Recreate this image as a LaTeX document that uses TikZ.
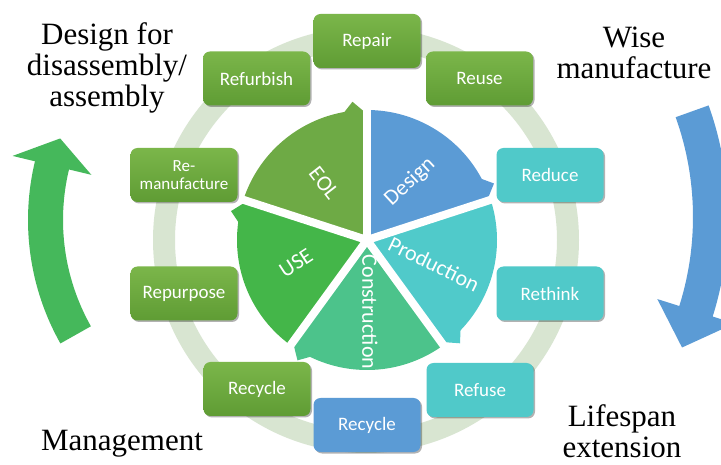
\documentclass[tikz,border=0pt]{standalone}
\usepackage{fontspec}
\setmainfont{Carlito}
\newfontfamily\serifbig{Liberation Serif}
\usetikzlibrary{shadows}
\definecolor{ringc}{HTML}{D8E5D1}
\definecolor{gtop}{HTML}{7BB64A}
\definecolor{gbot}{HTML}{5F9C34}
\definecolor{tealc}{HTML}{50C9C9}
\definecolor{bluec}{HTML}{5B9BD5}
\definecolor{designc}{HTML}{5B9BD5}
\definecolor{prodc}{HTML}{50CACA}
\definecolor{consc}{HTML}{4CC38B}
\definecolor{usec}{HTML}{44B649}
\definecolor{eolc}{HTML}{6EAA45}
\definecolor{larrowc}{HTML}{45B85B}
\definecolor{rarrowc}{HTML}{5B9BD5}
\newcommand\mysector[3]{%
  \fill[#1] (0,0) -- (#2:130) arc[start angle=#2, end angle={#3+10}, radius=130]
    -- ({#3+6}:139) -- (#3:126) -- cycle;}
\begin{document}
\begin{tikzpicture}[x=1pt,y=1pt,
  box/.style={rounded corners=7pt, minimum width=107pt, minimum height=54pt,
    inner sep=0pt, text=white, font=\fontsize{19}{21}\selectfont, align=center,
    drop shadow={shadow xshift=1.5pt, shadow yshift=-1.5pt, opacity=0.3, fill=black}},
  gbox/.style={box, top color=gtop, bottom color=gbot},
  tbox/.style={box, fill=tealc},
  bbox/.style={box, fill=bluec},
  plabel/.style={text=white, inner sep=0pt, font=\fontsize{22}{24}\selectfont},
  big/.style={font=\serifbig\fontsize{31}{31}\selectfont, align=center, text=black, inner sep=0pt},
  gapline/.style={white, line width=8pt}
]
\useasboundingbox (0,0) rectangle (721,464);
\clip (0,0) rectangle (721,464);
\fill[white] (0,0) rectangle (721,464);

% ring
\coordinate (rc) at (366,224);
\draw[ringc, line width=22pt] (rc) circle[radius=202];

% boxes
\node[gbox] (repair) at (367,423) {Repair};
\node[gbox] (refurbish) at (256.5,385.5) {Refurbish};
\node[gbox] (reuse) at (479.5,385.5) {Reuse};
\node[gbox, font=\fontsize{17}{18}\selectfont] (reman) at (184,289) {Re-\\manufacture};
\node[gbox] (repurpose) at (184,170.5) {Repurpose};
\node[gbox] (recycleg) at (257,75) {Recycle};
\node[bbox] (recycleb) at (367,39) {Recycle};
\node[tbox] (refuse) at (480,74) {Refuse};
\node[tbox] (rethink) at (550,170.5) {Rethink};
\node[tbox] (reduce) at (550,289) {Reduce};

% pie
\begin{scope}[shift={(367,224)}]
  \mysector{designc}{90}{18}
  \mysector{prodc}{18}{-54}
  \mysector{consc}{-54}{-126}
  \mysector{usec}{-126}{-198}
  \mysector{eolc}{162}{90}
  \foreach \a in {90,18,-54,-126,162} \draw[gapline] (0,0) -- (\a:132);
  \node[plabel, rotate=43] (design) at (43,58) {Design};
  \node[plabel, rotate=-26] (production) at (67,-24) {Production};
  \node[plabel, rotate=-90] (construction) at (3,-72) {Construction};
  \node[plabel, rotate=33] (use) at (-71,-23) {USE};
  \node[plabel, rotate=-52] (eol) at (-43,57) {EOL};
\end{scope}

% left arrow
\begin{scope}[shift={(279.5,244)}]
  \fill[larrowc] (209.4:251.5) arc[start angle=209.4, end angle=166.5, radius=251.5]
    -- (166.5:274.5) -- (159.6:234) -- (166.5:193.5) -- (166.5:216.5)
    arc[start angle=166.5, end angle=209.4, radius=216.5] -- cycle;
\end{scope}
% right arrow
\begin{scope}[shift={(397,247)}]
  \fill[rarrowc] (19.7:331) arc[start angle=19.7, end angle=-17.5, radius=331]
    -- (-17.5:354) -- (-24.6:313.5) -- (-17.5:273) -- (-17.5:296)
    arc[start angle=-17.5, end angle=19.7, radius=296] -- cycle;
\end{scope}

% big labels (base = baseline of the last line)
\node[big, anchor=base] (dfd) at (107,357) {Design for\\disassembly/\\assembly};
\node[big, anchor=base] (wise) at (634,385) {Wise\\manufacture};
\node[big, anchor=base] (mgmt) at (122,13) {Management};
\node[big, anchor=base] (life) at (622,7) {Lifespan\\extension};
\end{tikzpicture}
\end{document}
